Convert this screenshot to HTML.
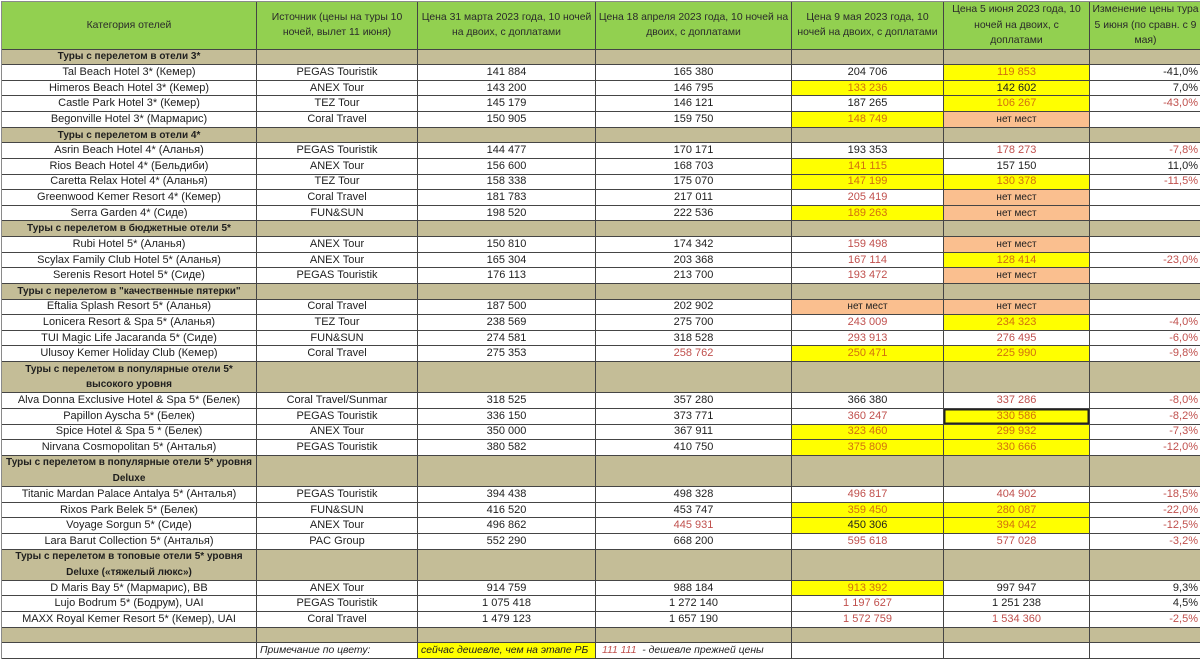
<!DOCTYPE html>
<html>
<head>
<meta charset="utf-8">
<style>
html,body{margin:0;padding:0;background:#fff;width:1200px;height:659px;overflow:hidden;}
.g{position:absolute;left:1px;top:1px;display:grid;
 grid-template-columns:255px 161px 178px 196px 152px 146px 112px;
 grid-template-rows:47.6px repeat(39,15.63px);
 border-top:1px solid #8a8a8a;border-left:1px solid #8a8a8a;
 font-family:"Liberation Sans","Noto Sans CJK SC",sans-serif;font-size:11px;color:#1e1e1e;}
.g>div{box-sizing:border-box;border-right:1px solid #454545;border-bottom:1px solid #454545;
 display:flex;align-items:center;justify-content:center;white-space:nowrap;overflow:hidden;line-height:15px;text-align:center;}
.g>div.h{background:#92D050;line-height:15.6px;color:#2a2a2a;font-size:10.4px;}
.g>div.s{background:#C4BD97;font-weight:bold;font-size:10px;}
.g>div.s2{grid-row:span 2;line-height:15.6px;}
.g>div.r{color:#C0504D;}
.g>div.y{background:#FFFF00;color:#D2700E;}
.g>div.yb{background:#FFFF00;}
.g>div.o{background:#FABF8F;font-size:10px;}
.g>div.p{justify-content:flex-end;padding-right:3px;}
.g>div.sel{box-shadow:inset 0 0 0 1.5px #222;}
.g>div.nl{justify-content:flex-start;padding-left:3px;font-style:italic;font-size:10.4px;}
.rr{color:#C0504D;}
</style>
</head>
<body>
<div class="g">
<div class="h">Категория отелей</div>
<div class="h">Источник (цены на туры 10<br>ночей, вылет 11 июня)</div>
<div class="h">Цена 31 марта 2023 года, 10 ночей<br>на двоих, с доплатами</div>
<div class="h">Цена 18 апреля 2023 года, 10 ночей на<br>двоих, с доплатами</div>
<div class="h">Цена 9 мая 2023 года, 10<br>ночей на двоих, с доплатами</div>
<div class="h">Цена 5 июня 2023 года, 10<br>ночей на двоих, с<br>доплатами</div>
<div class="h">Изменение цены тура<br>5 июня (по сравн. с 9<br>мая)</div>

<div class="s">Туры с перелетом в отели 3*</div><div class="s"></div><div class="s"></div><div class="s"></div><div class="s"></div><div class="s"></div><div class="s"></div>

<div>Tal Beach Hotel 3* (Кемер)</div><div>PEGAS Touristik</div><div>141 884</div><div>165 380</div><div>204 706</div><div class="y">119 853</div><div class="p">-41,0%</div>
<div>Himeros Beach Hotel 3* (Кемер)</div><div>ANEX Tour</div><div>143 200</div><div>146 795</div><div class="y">133 236</div><div class="yb">142 602</div><div class="p">7,0%</div>
<div>Castle Park Hotel 3* (Кемер)</div><div>TEZ Tour</div><div>145 179</div><div>146 121</div><div>187 265</div><div class="y">106 267</div><div class="p r">-43,0%</div>
<div>Begonville Hotel 3* (Мармарис)</div><div>Coral Travel</div><div>150 905</div><div>159 750</div><div class="y">148 749</div><div class="o">нет мест</div><div class="p"></div>

<div class="s">Туры с перелетом в отели 4*</div><div class="s"></div><div class="s"></div><div class="s"></div><div class="s"></div><div class="s"></div><div class="s"></div>

<div>Asrin Beach Hotel 4* (Аланья)</div><div>PEGAS Touristik</div><div>144 477</div><div>170 171</div><div>193 353</div><div class="r">178 273</div><div class="p r">-7,8%</div>
<div>Rios Beach Hotel 4* (Бельдиби)</div><div>ANEX Tour</div><div>156 600</div><div>168 703</div><div class="y">141 115</div><div>157 150</div><div class="p">11,0%</div>
<div>Caretta Relax Hotel 4* (Аланья)</div><div>TEZ Tour</div><div>158 338</div><div>175 070</div><div class="y">147 199</div><div class="y">130 378</div><div class="p r">-11,5%</div>
<div>Greenwood Kemer Resort 4* (Кемер)</div><div>Coral Travel</div><div>181 783</div><div>217 011</div><div class="r">205 419</div><div class="o">нет мест</div><div class="p"></div>
<div>Serra Garden 4* (Сиде)</div><div>FUN&amp;SUN</div><div>198 520</div><div>222 536</div><div class="y">189 263</div><div class="o">нет мест</div><div class="p"></div>

<div class="s">Туры с перелетом в бюджетные отели 5*</div><div class="s"></div><div class="s"></div><div class="s"></div><div class="s"></div><div class="s"></div><div class="s"></div>

<div>Rubi Hotel 5* (Аланья)</div><div>ANEX Tour</div><div>150 810</div><div>174 342</div><div class="r">159 498</div><div class="o">нет мест</div><div class="p"></div>
<div>Scylax Family Club Hotel 5* (Аланья)</div><div>ANEX Tour</div><div>165 304</div><div>203 368</div><div class="r">167 114</div><div class="y">128 414</div><div class="p r">-23,0%</div>
<div>Serenis Resort Hotel 5* (Сиде)</div><div>PEGAS Touristik</div><div>176 113</div><div>213 700</div><div class="r">193 472</div><div class="o">нет мест</div><div class="p"></div>

<div class="s">Туры с перелетом в "качественные пятерки"</div><div class="s"></div><div class="s"></div><div class="s"></div><div class="s"></div><div class="s"></div><div class="s"></div>

<div>Eftalia Splash Resort 5* (Аланья)</div><div>Coral Travel</div><div>187 500</div><div>202 902</div><div class="o">нет мест</div><div class="o">нет мест</div><div class="p"></div>
<div>Lonicera Resort &amp; Spa 5* (Аланья)</div><div>TEZ Tour</div><div>238 569</div><div>275 700</div><div class="r">243 009</div><div class="y">234 323</div><div class="p r">-4,0%</div>
<div>TUI Magic Life Jacaranda 5* (Сиде)</div><div>FUN&amp;SUN</div><div>274 581</div><div>318 528</div><div class="r">293 913</div><div class="r">276 495</div><div class="p r">-6,0%</div>
<div>Ulusoy Kemer Holiday Club (Кемер)</div><div>Coral Travel</div><div>275 353</div><div class="r">258 762</div><div class="y">250 471</div><div class="y">225 990</div><div class="p r">-9,8%</div>

<div class="s s2">Туры с перелетом в популярные отели 5*<br>высокого уровня</div><div class="s s2"></div><div class="s s2"></div><div class="s s2"></div><div class="s s2"></div><div class="s s2"></div><div class="s s2"></div>

<div>Alva Donna Exclusive Hotel &amp; Spa 5* (Белек)</div><div>Coral Travel/Sunmar</div><div>318 525</div><div>357 280</div><div>366 380</div><div class="r">337 286</div><div class="p r">-8,0%</div>
<div>Papillon Ayscha 5* (Белек)</div><div>PEGAS Touristik</div><div>336 150</div><div>373 771</div><div class="r">360 247</div><div class="y sel">330 586</div><div class="p r">-8,2%</div>
<div>Spice Hotel &amp; Spa 5 * (Белек)</div><div>ANEX Tour</div><div>350 000</div><div>367 911</div><div class="y">323 460</div><div class="y">299 932</div><div class="p r">-7,3%</div>
<div>Nirvana Cosmopolitan 5* (Анталья)</div><div>PEGAS Touristik</div><div>380 582</div><div>410 750</div><div class="y">375 809</div><div class="y">330 666</div><div class="p r">-12,0%</div>

<div class="s s2">Туры с перелетом в популярные отели 5* уровня<br>Deluxe</div><div class="s s2"></div><div class="s s2"></div><div class="s s2"></div><div class="s s2"></div><div class="s s2"></div><div class="s s2"></div>

<div>Titanic Mardan Palace Antalya 5* (Анталья)</div><div>PEGAS Touristik</div><div>394 438</div><div>498 328</div><div class="r">496 817</div><div class="r">404 902</div><div class="p r">-18,5%</div>
<div>Rixos Park Belek 5* (Белек)</div><div>FUN&amp;SUN</div><div>416 520</div><div>453 747</div><div class="y">359 450</div><div class="y">280 087</div><div class="p r">-22,0%</div>
<div>Voyage Sorgun 5* (Сиде)</div><div>ANEX Tour</div><div>496 862</div><div class="r">445 931</div><div class="yb">450 306</div><div class="y">394 042</div><div class="p r">-12,5%</div>
<div>Lara Barut Collection 5* (Анталья)</div><div>PAC Group</div><div>552 290</div><div>668 200</div><div class="r">595 618</div><div class="r">577 028</div><div class="p r">-3,2%</div>

<div class="s s2">Туры с перелетом в топовые отели 5* уровня<br>Deluxe («тяжелый люкс»)</div><div class="s s2"></div><div class="s s2"></div><div class="s s2"></div><div class="s s2"></div><div class="s s2"></div><div class="s s2"></div>

<div>D Maris Bay 5* (Мармарис), BB</div><div>ANEX Tour</div><div>914 759</div><div>988 184</div><div class="y">913 392</div><div>997 947</div><div class="p">9,3%</div>
<div>Lujo Bodrum 5* (Бодрум), UAI</div><div>PEGAS Touristik</div><div>1 075 418</div><div>1 272 140</div><div class="r">1 197 627</div><div>1 251 238</div><div class="p">4,5%</div>
<div>MAXX Royal Kemer Resort 5* (Кемер), UAI</div><div>Coral Travel</div><div>1 479 123</div><div>1 657 190</div><div class="r">1 572 759</div><div class="r">1 534 360</div><div class="p r">-2,5%</div>

<div class="s"></div><div class="s"></div><div class="s"></div><div class="s"></div><div class="s"></div><div class="s"></div><div class="s"></div>

<div></div><div class="nl">Примечание по цвету:</div><div class="nl yb">сейчас дешевле, чем на этапе РБ</div><div class="nl" style="padding-left:6px"><span class="rr">111 111</span>&nbsp; - дешевле прежней цены</div><div></div><div></div><div></div>
</div>
</body>
</html>
